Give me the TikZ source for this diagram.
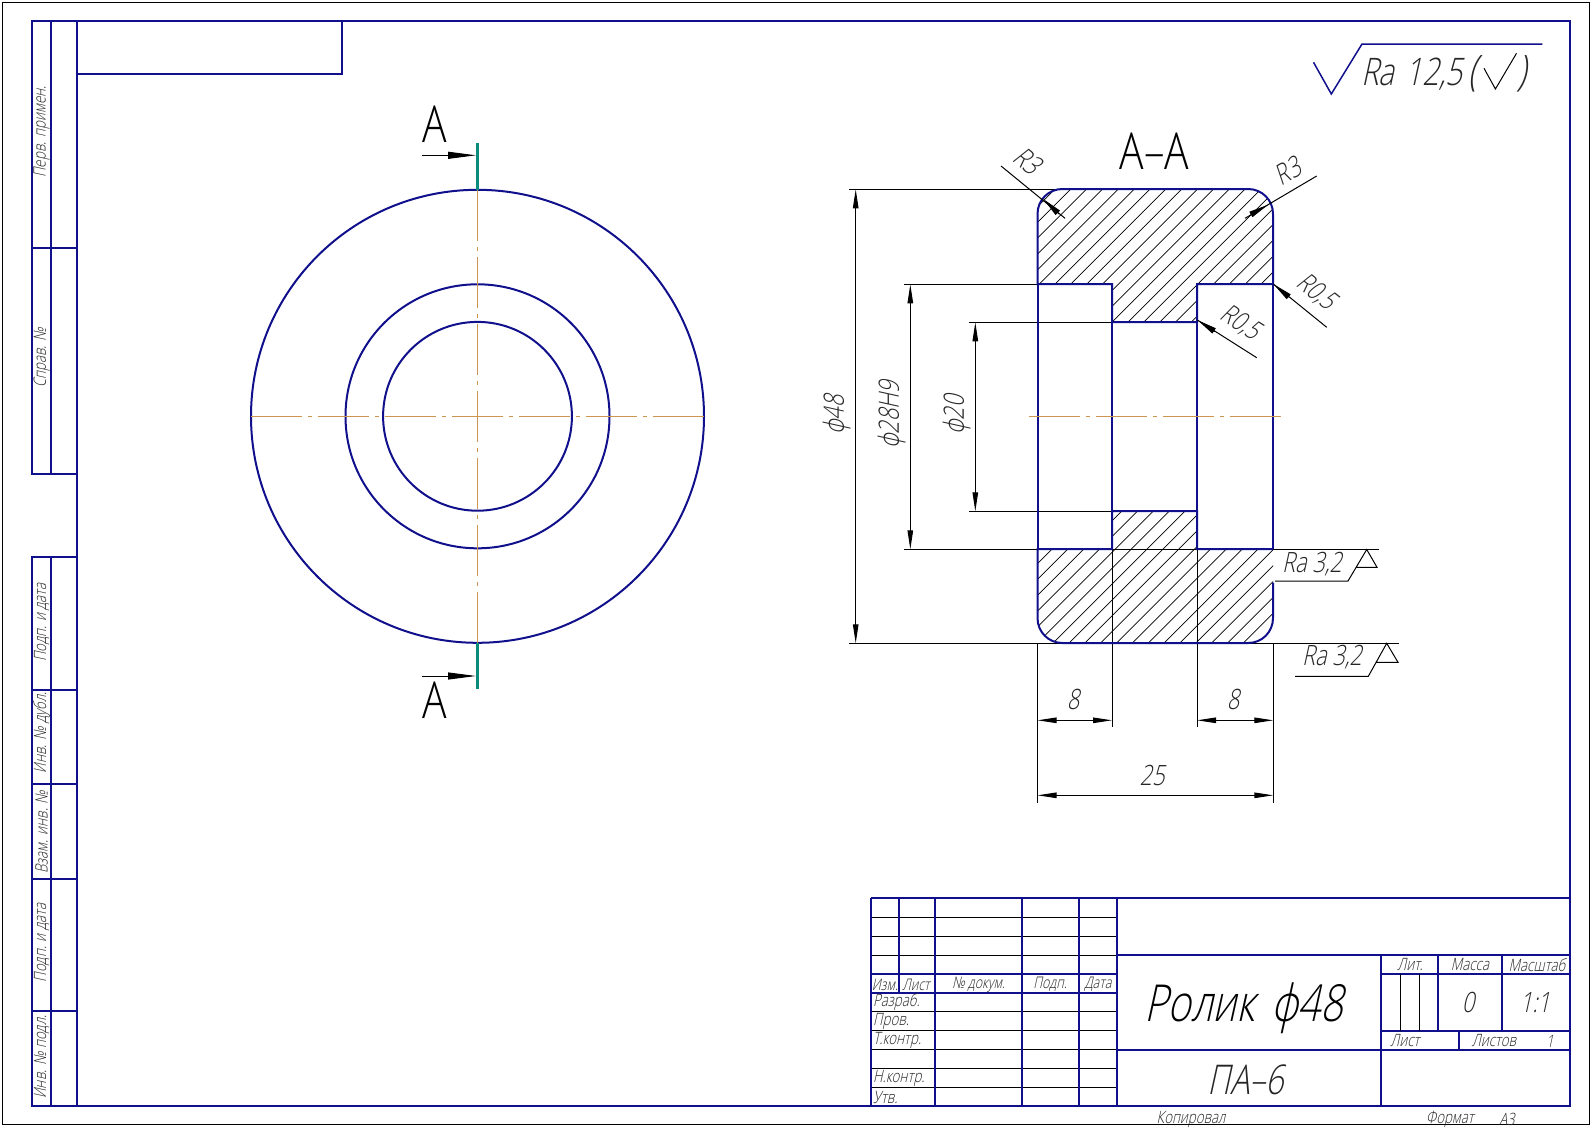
\documentclass[tikz,border=0pt]{standalone}
\usepackage{fontspec}
\newfontfamily\gostfont[FakeSlant=0.22,FakeStretch=0.78]{Open Sans Light}
\newfontfamily\gostup[FakeStretch=0.8]{Open Sans Light}
\usetikzlibrary{calc,positioning,arrows.meta}
\definecolor{cBlue}{RGB}{16,16,140}
\definecolor{cAxis}{RGB}{205,150,80}
\definecolor{cCut}{RGB}{10,140,125}
\newcommand{\gs}[1]{\gostfont\fontsize{#1}{#1}\selectfont}
\newcommand{\gu}[1]{\gostup\fontsize{#1}{#1}\selectfont}
\tikzset{
  bold/.style={draw=cBlue,line width=2pt},
  thin1/.style={draw=black,line width=1pt},
  hatchln/.style={draw=black,line width=0.7pt},
  axisln/.style={draw=cAxis,line width=1pt,dash pattern=on 51pt off 6pt on 4pt off 6pt},
  dim/.style={thin1,{Triangle[length=19pt,width=5.5pt]}-{Triangle[length=19pt,width=5.5pt]}},
  lead/.style={thin1,-{Triangle[length=20pt,width=6pt]}},
  lbl/.style={inner sep=0pt,text=black!85},
}
\newcommand{\pathTop}{(1037.5,284) -- (1037.5,214) .. controls (1037.5,200) and (1048.5,189) .. (1062.5,189) -- (1248,189) .. controls (1262,189) and (1273,200) .. (1273,214) -- (1273,284) -- (1197,284) -- (1197,322) -- (1112,322) -- (1112,284) -- cycle}
\newcommand{\pathBot}{(1037.5,549) -- (1037.5,618) .. controls (1037.5,632) and (1048.5,643) .. (1062.5,643) -- (1248,643) .. controls (1262,643) and (1273,632) .. (1273,618) -- (1273,549) -- (1197,549) -- (1197,511) -- (1112,511) -- (1112,549) -- cycle}
\newcommand{\hatchFrom}[1]{
  \foreach \k in {0,...,44}{
    \pgfmathsetmacro{\cSum}{#1+15.85*\k}
    \draw[hatchln] ({\cSum-150},150) -- ({\cSum-670},670);
  }
}
\begin{document}
\begin{tikzpicture}[x=1pt,y=-1pt]
  \useasboundingbox (0,0) rectangle (1592,1127);
  \coordinate (cCenter) at (477.5,416.3);

  %outer sheet and frame
  \draw[thin1] (2.5,2.5) rectangle (1589,1124);
  \draw[bold] (77,20.7) rectangle (1570,1106.4);
  \draw[bold] (77,73.7) -- (342,73.7) -- (342,20.7);
  \draw[bold] (77,20.7) -- (32,20.7) -- (32,473.7) -- (77,473.7);
  \draw[bold] (51,20.7) -- (51,473.7);
  \draw[bold] (32,247.7) -- (77,247.7);
  \draw[bold] (77,557) -- (32,557) -- (32,1106.4) -- (77,1106.4);
  \draw[bold] (51,557) -- (51,1106.4);
  \foreach \y in {690,784,879,1011}
  {
      \draw[bold] (32,\y) -- (77,\y);
  };
  \foreach \y/\t [count=\i] in
  {132/Перв. примен.,
   358/Справ. №,
   622.5/Подп. и дата,
   733/Инв. № дубл.,
   832/Взам. инв. №,
   943/Подп. и дата,
   1057/Инв. № подл.
  }
  {
      \node[lbl,rotate=90,font=\gs{17}] (nStrip\i) at (41.7,\y) {\t};
  };

  %front view
  \foreach \r in {226.5,132,94.4}
  {
      \draw[bold] (cCenter) circle[radius=\r pt];
  };
  \draw[axisln] (250.7,416.3) -- (704.6,416.3);
  \draw[axisln] (477.5,190) -- (477.5,643);
  \draw[draw=cCut,line width=3.2pt] (477.5,143.3) -- (477.5,190);
  \draw[draw=cCut,line width=3.2pt] (477.5,643) -- (477.5,689.4);
  \draw[thin1,-{Triangle[length=28pt,width=7pt]}] (421.7,155.3) -- (476,155.3);
  \draw[thin1,-{Triangle[length=28pt,width=7pt]}] (421.7,676) -- (476,676);
  \node[inner sep=0pt,font=\gu{51}] (nCutTop) at (434.5,124) {A};
  \node[inner sep=0pt,font=\gu{51}] (nCutBot) at (434.5,700) {A};

  %section hatching
  \begin{scope}
      \clip \pathTop;
      \hatchFrom{1228.15}
  \end{scope}
  \begin{scope}
      \clip \pathBot;
      \hatchFrom{1220.65}
  \end{scope}

  %extension lines
  \draw[thin1] (849.3,189.3) -- (1062,189.3);
  \draw[thin1] (904.3,284.3) -- (1037.5,284.3);
  \draw[thin1] (969.3,322.3) -- (1112,322.3);
  \draw[thin1] (969.3,511.3) -- (1112,511.3);
  \draw[thin1] (904.3,549.3) -- (1379,549.3);
  \draw[thin1] (849.3,643.3) -- (1399,643.3);
  \draw[thin1] (1037.5,643) -- (1037.5,802.7);
  \draw[thin1] (1273.3,643) -- (1273.3,802.7);
  \draw[thin1] (1112,549) -- (1112,726.7);
  \draw[thin1] (1197,549) -- (1197,726.7);

  %section outline
  \draw[bold] (1273,284) -- (1197,284) -- (1197,322) -- (1112,322) -- (1112,284) -- (1037.5,284) -- (1037.5,214) .. controls (1037.5,200) and (1048.5,189) .. (1062.5,189) -- (1248,189) .. controls (1262,189) and (1273,200) .. (1273,214) -- cycle;
  \draw[bold] (1273,582.7) -- (1273,618) .. controls (1273,632) and (1262,643) .. (1248,643) -- (1062.5,643) .. controls (1048.5,643) and (1037.5,632) .. (1037.5,618) -- (1037.5,549) -- (1112,549) -- (1112,511) -- (1197,511) -- (1197,549) -- (1273,549);
  \draw[bold] (1037.5,284) -- (1037.5,549);
  \draw[bold] (1112,322) -- (1112,511);
  \draw[bold] (1197,284) -- (1197,549);
  \draw[bold] (1273,284) -- (1273,549);
  \draw[axisln] (1028.5,416.3) -- (1281,416.3);

  %dimensions
  \draw[dim] (855.7,189.3) -- (855.7,643.3);
  \draw[dim] (910.3,284.3) -- (910.3,549.3);
  \draw[dim] (975.3,322.3) -- (975.3,511.3);
  \draw[dim] (1037.5,720.3) -- (1112,720.3);
  \draw[dim] (1197,720.3) -- (1273.3,720.3);
  \draw[dim] (1037.5,795.3) -- (1273.3,795.3);
  \node[lbl,rotate=90,font=\gs{28}] (nDimA) at (836.7,415) {ф48};
  \node[lbl,rotate=90,font=\gs{28}] (nDimB) at (891.7,415) {ф28H9};
  \node[lbl,rotate=90,font=\gs{28}] (nDimC) at (956.7,415) {ф20};
  \node[lbl,font=\gs{28}] (nDimD) at (1073,699) {8};
  \node[lbl,font=\gs{28}] (nDimE) at (1233,699) {8};
  \node[lbl,font=\gs{28}] (nDimF) at (1152,775) {25};

  %radius leaders
  \draw[thin1] (1001,166) -- (1065,218.3);
  \draw[lead] (1059,214) -- (1043.3,199);
  \draw[thin1] (1316.7,176) -- (1245,218.3);
  \draw[lead] (1251.7,214) -- (1268.3,204.7);
  \draw[thin1] (1326.7,327.3) -- (1273.3,284);
  \draw[lead] (1289,297) -- (1273.3,284);
  \draw[thin1] (1256.7,357.7) -- (1197.3,320);
  \draw[lead] (1215,331.5) -- (1197.3,320);
  \node[lbl,rotate=-39,font=\gs{28}] (nRadA) at (1027.3,161) {R3};
  \node[lbl,rotate=31,font=\gs{28}] (nRadB) at (1287.7,171) {R3};
  \node[lbl,rotate=-39,font=\gs{27}] (nRadC) at (1316,292) {R0,5};
  \node[lbl,rotate=-32,font=\gs{27}] (nRadD) at (1240,323) {R0,5};
  \node[inner sep=0pt,font=\gu{51}] (nSection) at (1154.5,151) {A–A};

  %roughness signs
  \draw[thin1] (1275,581) -- (1348,581) -- (1366.7,549.5) -- (1377,567.3) -- (1356,567.3);
  \draw[thin1] (1295,676.3) -- (1368.3,676.3) -- (1386.7,643.3) -- (1398,662.3) -- (1375.7,662.3);
  \node[lbl,font=\gs{28}] (nRoughA) at (1312,564) {Ra 3,2};
  \node[lbl,font=\gs{28}] (nRoughB) at (1332,657) {Ra 3,2};
  \draw[draw=cBlue,line width=1.5pt] (1313.5,62.3) -- (1331.3,94) -- (1362,44) -- (1542.4,44);
  \node[lbl,anchor=base west,font=\gs{38}] (nRoughC) at (1361,85) {Ra\hspace{3pt} 12,5};
  \node[lbl,anchor=base,font=\gs{42}] (nRoughL) at (1473,85) {(};
  \node[lbl,anchor=base,font=\gs{42}] (nRoughR) at (1522,85) {)};
  \draw[thin1] (1484,68.3) -- (1495.4,89) -- (1516.5,53.3);

  %title block grid
  \foreach \y in {917.4,936.3,955.2,1011.9,1030.8,1049.7,1068.6,1087.5}
  {
      \draw[thin1] (871.3,\y) -- (1116.5,\y);
  };
  \draw[bold] (871.3,897.8) -- (1570,897.8);
  \draw[bold] (871.3,897.8) -- (871.3,1106.4);
  \foreach \y in {974.1,993}
  {
      \draw[bold] (871.3,\y) -- (1116.5,\y);
  };
  \draw[bold] (898.5,897.8) -- (898.5,993);
  \foreach \x in {935,1022,1079,1116.5}
  {
      \draw[bold] (\x,897.8) -- (\x,1106.4);
  };
  \draw[bold] (1116.5,954.8) -- (1570,954.8);
  \draw[bold] (1116.5,1049.7) -- (1570,1049.7);
  \draw[bold] (1381,954.8) -- (1381,1106.4);
  \draw[bold] (1381,974.1) -- (1570,974.1);
  \draw[bold] (1381,1030.8) -- (1570,1030.8);
  \draw[bold] (1438,954.8) -- (1438,1030.8);
  \draw[bold] (1502,954.8) -- (1502,1030.8);
  \draw[bold] (1459,1030.8) -- (1459,1049.7);
  \draw[thin1] (1400.7,974.1) -- (1400.7,1030.8);
  \draw[thin1] (1419.5,974.1) -- (1419.5,1030.8);

  %title block texts
  \foreach \x/\t [count=\i] in
  {885/Изм.,
   916/Лист,
   978.5/№ докум.,
   1050/Подп.,
   1098/Дата
  }
  {
      \node[lbl,font=\gs{16}] (nHead\i) at (\x,984.5) {\t};
  };
  \foreach \y/\t [count=\i] in
  {1002/Разраб.,
   1021/Пров.,
   1040/Т.контр.,
   1078/Н.контр.,
   1097/Утв.
  }
  {
      \node[lbl,anchor=west,font=\gs{17}] (nRole\i) at (873,\y) {\t};
  };
  \foreach \x/\y/\t [count=\i] in
  {1410/965/Лит.,
   1470/965/Масса,
   1537/965/Масштаб,
   1405/1041/Лист,
   1494/1041/Листов,
   1550/1041/1,
   1191/1119/Копировал,
   1450/1119/Формат,
   1507/1119/А3
  }
  {
      \node[lbl,font=\gs{17}] (nCell\i) at (\x,\y) {\t};
  };
  \node[lbl,font=\gs{28}] (nMass) at (1468,1002.8) {0};
  \node[lbl,font=\gs{28}] (nScale) at (1535,1002.8) {1:1};
  \node[inner sep=0pt,anchor=base,font=\gs{51}] (nTitle) at (1244,1021) {Ролик\hspace{6pt} ф48};
  \node[lbl,anchor=base,font=\gs{41}] (nMaterial) at (1246,1094) {ПА–6};
\end{tikzpicture}
\end{document}
